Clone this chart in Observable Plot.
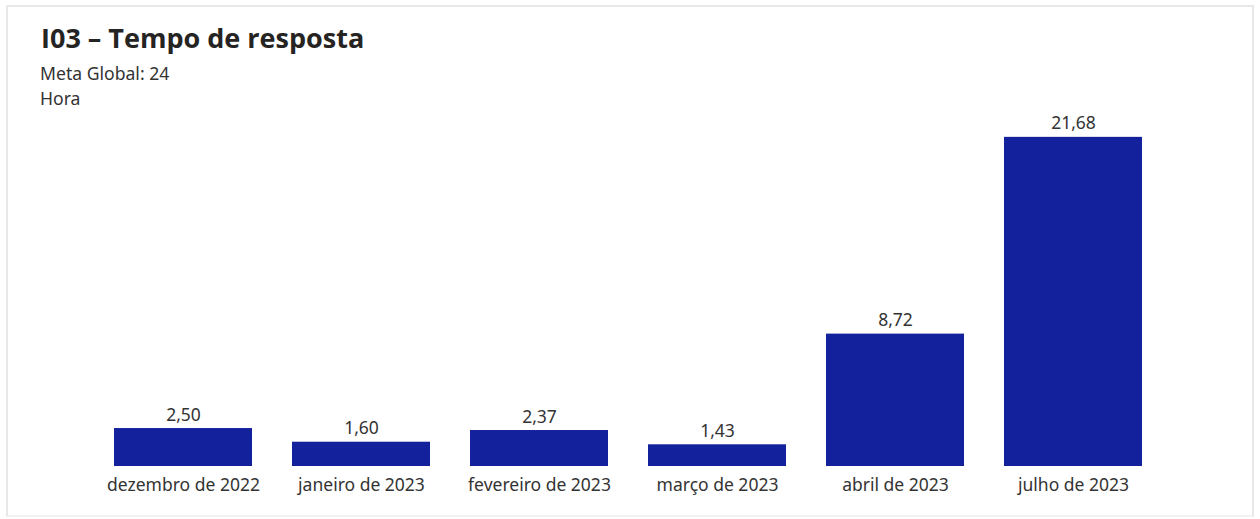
<!DOCTYPE html>
<html>
<head>
<meta charset="utf-8">
<script src="https://cdn.jsdelivr.net/npm/d3@7"></script>
<script src="https://cdn.jsdelivr.net/npm/@observablehq/plot@0.6"></script>
<style>
  html, body { margin: 0; padding: 0; background: #fff; width: 1260px; height: 519px; overflow: hidden; }
  body { font-family: "Noto Sans", "Open Sans", sans-serif; position: relative; }
  #frame { position: absolute; left: 6px; top: 5px; width: 1248px; height: 512px; border: 2px solid #e8e8e8; border-bottom-color: #f2f2f2; box-sizing: border-box; }
  #title { position: absolute; left: 41px; top: 19px; font-family: "Open Sans", "Noto Sans", sans-serif; font-size: 27px; font-weight: 700; color: #252423; white-space: nowrap; }
  #sub1 { position: absolute; left: 40px; top: 61px; font-size: 17.6px; color: #333; }
  #sub2 { position: absolute; left: 40px; top: 86px; font-size: 17.6px; color: #333; }
  #chart { position: absolute; left: 0; top: 110px; }
</style>
</head>
<body>
<div id="frame"></div>
<div id="title">I03 – Tempo de resposta</div>
<div id="sub1">Meta Global: 24</div>
<div id="sub2">Hora</div>
<div id="chart"></div>
<script>
const months = ["dezembro de 2022", "janeiro de 2023", "fevereiro de 2023", "março de 2023", "abril de 2023", "julho de 2023"];
const values = [2.50, 1.60, 2.37, 1.43, 8.72, 21.68];
const valueLabels = ["2,50", "1,60", "2,37", "1,43", "8,72", "21,68"];

const data = months.map((m, i) => ({month: m, value: values[i], label: valueLabels[i]}));

const chart = Plot.plot({
  width: 1260,
  height: 409,
  marginLeft: 73,
  marginRight: 77,
  marginTop: 22,
  marginBottom: 53,
  style: {fontFamily: "Noto Sans, Open Sans, sans-serif", fontSize: "17.5px", color: "#333", background: "transparent"},
  x: {domain: months, padding: 0.225, label: null, tickSize: 0, tickPadding: 12},
  y: {domain: [0, 22], axis: null},
  marks: [
    Plot.barY(data, {x: "month", y: "value", fill: "#13219C"}),
    Plot.text(data, {x: "month", y: "value", text: "label", lineAnchor: "bottom", dy: -8, fill: "#333", fontSize: 17.5})
  ]
});
document.getElementById("chart").appendChild(chart);
</script>
</body>
</html>
